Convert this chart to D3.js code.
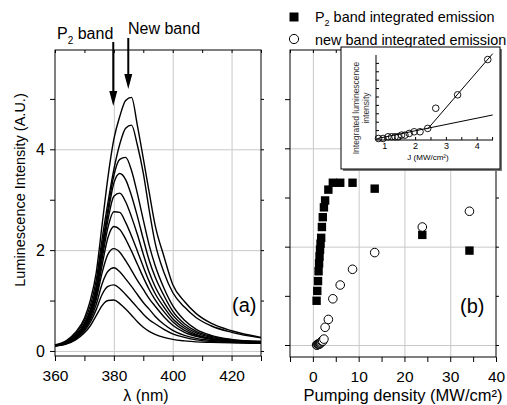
<!DOCTYPE html>
<html>
<head>
<meta charset="utf-8">
<script src="https://cdn.jsdelivr.net/npm/d3@7"></script>
<style>
body { margin: 0; background: #fff; }
svg { display: block; font-family: "Liberation Sans", Arial, sans-serif; }
.grid line { stroke: #c8c8c8; stroke-width: 1; }
.grid path, .axis path { display: none; }
.axis line { stroke: #000; }
</style>
</head>
<body>
<svg id="chart" width="507" height="405"></svg>
<script>
// (a) luminescence spectra, one array per pumping level
var wavelength = [360, 364, 367, 370, 372, 374, 376, 378, 380, 382, 384, 386, 388, 390, 392, 394, 397, 400, 404, 408, 413, 420, 430];
var spec01 = [0.10, 0.14, 0.22, 0.36, 0.50, 0.70, 0.90, 1.00, 1.01, 0.94, 0.83, 0.71, 0.58, 0.47, 0.39, 0.33, 0.27, 0.23, 0.20, 0.18, 0.17, 0.16, 0.15];
var spec02 = [0.10, 0.15, 0.24, 0.40, 0.57, 0.82, 1.12, 1.28, 1.31, 1.24, 1.12, 0.99, 0.86, 0.73, 0.62, 0.54, 0.43, 0.34, 0.27, 0.22, 0.19, 0.17, 0.16];
var spec03 = [0.10, 0.15, 0.25, 0.42, 0.62, 0.92, 1.33, 1.58, 1.65, 1.57, 1.43, 1.28, 1.12, 0.96, 0.83, 0.69, 0.53, 0.41, 0.31, 0.25, 0.21, 0.18, 0.16];
var spec04 = [0.10, 0.16, 0.26, 0.45, 0.67, 1.02, 1.55, 1.92, 2.03, 1.96, 1.79, 1.60, 1.40, 1.22, 1.04, 0.89, 0.68, 0.51, 0.37, 0.29, 0.23, 0.19, 0.17];
var spec05 = [0.10, 0.16, 0.27, 0.47, 0.70, 1.08, 1.70, 2.25, 2.47, 2.41, 2.22, 1.98, 1.72, 1.46, 1.22, 1.02, 0.78, 0.58, 0.41, 0.31, 0.24, 0.20, 0.17];
var spec06 = [0.11, 0.17, 0.28, 0.49, 0.73, 1.13, 1.82, 2.45, 2.76, 2.75, 2.55, 2.28, 1.98, 1.67, 1.38, 1.14, 0.87, 0.64, 0.45, 0.33, 0.25, 0.20, 0.18];
var spec07 = [0.11, 0.17, 0.29, 0.51, 0.76, 1.18, 1.92, 2.60, 3.07, 3.13, 2.96, 2.66, 2.31, 1.92, 1.56, 1.28, 0.97, 0.71, 0.49, 0.36, 0.27, 0.21, 0.18];
var spec08 = [0.11, 0.18, 0.30, 0.53, 0.79, 1.23, 2.00, 2.72, 3.33, 3.52, 3.40, 3.08, 2.67, 2.22, 1.80, 1.47, 1.10, 0.79, 0.54, 0.39, 0.29, 0.22, 0.19];
var spec09 = [0.11, 0.18, 0.31, 0.55, 0.82, 1.28, 2.08, 2.82, 3.48, 3.80, 3.84, 3.58, 3.12, 2.60, 2.10, 1.70, 1.25, 0.90, 0.61, 0.43, 0.31, 0.23, 0.19];
var spec10 = [0.11, 0.19, 0.34, 0.60, 0.90, 1.40, 2.22, 2.95, 3.60, 4.10, 4.42, 4.48, 4.08, 3.53, 2.80, 2.15, 1.56, 1.16, 0.87, 0.66, 0.50, 0.37, 0.26];
var spec11 = [0.12, 0.21, 0.37, 0.65, 1.00, 1.55, 2.50, 3.45, 4.20, 4.65, 4.97, 5.03, 4.47, 3.82, 3.15, 2.50, 1.88, 1.32, 0.98, 0.74, 0.55, 0.40, 0.27];
var spectra = [spec01, spec02, spec03, spec04, spec05, spec06, spec07, spec08, spec09, spec10, spec11];

// (b) integrated emission vs pumping density
var pumpJ = [0.81, 0.96, 1.12, 1.24, 1.35, 1.45, 1.56, 1.67, 1.81, 1.97, 2.16, 2.41, 2.67, 3.38, 4.36, 5.97, 8.66, 13.5, 23.9, 34.2];
var p2Band = [0.45, 0.55, 0.65, 0.75, 0.83, 0.90, 0.97, 1.03, 1.09, 1.20, 1.30, 1.40, 1.47, 1.58, 1.65, 1.65, 1.65, 1.59, 1.12, 0.96];
var newBand = [0.00, 0.00, 0.01, 0.01, 0.01, 0.01, 0.02, 0.02, 0.03, 0.04, 0.04, 0.06, 0.18, 0.26, 0.47, 0.61, 0.77, 0.94, 1.20, 1.36];

// inset: first 15 points of newBand, plus the two linear fits
var insetCount = 15;
var fitLow = [[0.78, 0.0], [4.52, 0.14]];
var fitHigh = [[2.40, 0.055], [4.52, 0.505]];

// ticks
var ticksA_x = [360, 370, 380, 390, 400, 410, 420, 430];
var labelsA_x = [360, 380, 400, 420];
var ticksA_y = [0, 1, 2, 3, 4, 5];
var labelsA_y = [0, 2, 4];
var ticksB_x = [-5, 0, 5, 10, 15, 20, 25, 30, 35, 40];
var labelsB_x = [0, 10, 20, 30, 40];
var ticksB_y = [0, 0.5, 1, 1.5, 2, 2.5];
var ticksI_x = [1, 1.5, 2, 2.5, 3, 3.5, 4, 4.5];
var labelsI_x = [1, 2, 3, 4];
var ticksI_y = [0, 0.05, 0.1, 0.15, 0.2, 0.25, 0.3, 0.35, 0.4, 0.45];

var svg = d3.select('#chart');

var xA = d3.scaleLinear().domain([360, 430]).range([55, 261]);
var yA = d3.scaleLinear().domain([-0.1, 5.97]).range([356, 50]);
var xB = d3.scaleLinear().domain([-5, 40]).range([290, 496]);
var yB = d3.scaleLinear().domain([-0.122, 3]).range([357, 50]);
var xI = d3.scaleLinear().domain([0.73, 4.53]).range([376, 493]);
var yI = d3.scaleLinear().domain([-0.009, 0.497]).range([140, 55]);

function fmtOnly(list) {
    return function (d) { return list.indexOf(d) >= 0 ? d : ''; };
}

function drawGrid(g, x, y, xVals, yVals) {
    var xr = x.range(), yr = y.range();
    g.append('g').attr('class', 'grid').attr('transform', 'translate(0,' + yr[0] + ')')
        .call(d3.axisBottom(x).tickValues(xVals).tickSize(-(yr[0] - yr[1])).tickFormat(''));
    g.append('g').attr('class', 'grid').attr('transform', 'translate(' + xr[0] + ',0)')
        .call(d3.axisLeft(y).tickValues(yVals).tickSize(-(xr[1] - xr[0])).tickFormat(''));
}

function drawFrame(g, x, y, xTicks, xLabels, yTicks, yLabels) {
    var xr = x.range(), yr = y.range();
    var bottom = g.append('g').attr('class', 'axis').attr('transform', 'translate(0,' + yr[0] + ')')
        .call(d3.axisBottom(x).tickValues(xTicks).tickSize(5).tickPadding(9).tickFormat(fmtOnly(xLabels)));
    bottom.attr('font-size', 15.5).attr('font-family', null);
    g.append('g').attr('class', 'axis').attr('transform', 'translate(0,' + yr[1] + ')')
        .call(d3.axisTop(x).tickValues(xTicks).tickSize(-3).tickFormat(''));
    var left = g.append('g').attr('class', 'axis').attr('transform', 'translate(' + xr[0] + ',0)')
        .call(d3.axisLeft(y).tickValues(yTicks).tickSize(5).tickPadding(5).tickFormat(fmtOnly(yLabels)));
    left.attr('font-size', 16).attr('font-family', null);
    g.append('g').attr('class', 'axis').attr('transform', 'translate(' + xr[1] + ',0)')
        .call(d3.axisRight(y).tickValues(yTicks).tickSize(3).tickFormat(''));
    g.append('rect').attr('x', xr[0]).attr('y', yr[1])
        .attr('width', xr[1] - xr[0]).attr('height', yr[0] - yr[1])
        .attr('fill', 'none').attr('stroke', '#000').attr('stroke-width', 1);
}

// ---- panel (a)
var gA = svg.append('g');
drawGrid(gA, xA, yA, [380, 400, 420], [0, 2, 4]);

var line = d3.line()
    .x(function (d, i) { return xA(wavelength[i]); })
    .y(function (d) { return yA(d); })
    .curve(d3.curveMonotoneX);

gA.selectAll('path.spectrum').data(spectra).enter().append('path')
    .attr('class', 'spectrum')
    .attr('d', line)
    .attr('fill', 'none')
    .attr('stroke', '#000')
    .attr('stroke-width', 1.4);

drawFrame(gA, xA, yA, ticksA_x, labelsA_x, ticksA_y, labelsA_y);

// band arrows
var arrows = [{lambda: 379.8, top: 42, tip: 106}, {lambda: 384.9, top: 38, tip: 89}];
arrows.forEach(function (a) {
    var x = xA(a.lambda);
    gA.append('line').attr('x1', x).attr('x2', x).attr('y1', a.top).attr('y2', a.tip - 12)
        .attr('stroke', '#000').attr('stroke-width', 2);
    gA.append('path')
        .attr('d', 'M' + (x - 4) + ',' + (a.tip - 15) + 'L' + (x + 4) + ',' + (a.tip - 15) + 'L' + x + ',' + a.tip + 'Z')
        .attr('fill', '#000');
});

var p2 = gA.append('text').attr('x', 57).attr('y', 39).attr('font-size', 16);
p2.append('tspan').text('P');
p2.append('tspan').attr('dy', 5).attr('font-size', 10).text('2');
p2.append('tspan').attr('dy', -5).text(' band');
gA.append('text').attr('x', 128).attr('y', 34).attr('font-size', 16).text('New band');

gA.append('text').attr('x', 232).attr('y', 312).attr('font-size', 20).text('(a)');
gA.append('text').attr('x', 146).attr('y', 400.5).attr('font-size', 16).attr('text-anchor', 'middle').text('λ (nm)');
gA.append('text').attr('transform', 'translate(25,190) rotate(-90)').attr('font-size', 14.5)
    .attr('text-anchor', 'middle').text('Luminescence Intensity (A.U.)');

// ---- panel (b)
var gB = svg.append('g');
drawGrid(gB, xB, yB, [0, 10, 20, 30], [0, 1, 2]);

gB.selectAll('rect.p2').data(p2Band).enter().append('rect')
    .attr('class', 'p2')
    .attr('x', function (d, i) { return xB(pumpJ[i]) - 4.2; })
    .attr('y', function (d) { return yB(d) - 4.2; })
    .attr('width', 8.4).attr('height', 8.4)
    .attr('fill', '#000');

gB.selectAll('circle.nb').data(newBand).enter().append('circle')
    .attr('class', 'nb')
    .attr('cx', function (d, i) { return xB(pumpJ[i]); })
    .attr('cy', function (d) { return yB(d); })
    .attr('r', 4.3)
    .attr('fill', '#fff').attr('stroke', '#000').attr('stroke-width', 1);

drawFrame(gB, xB, yB, ticksB_x, labelsB_x, ticksB_y, []);

gB.append('text').attr('x', 460).attr('y', 313).attr('font-size', 20).text('(b)');
gB.append('text').attr('x', 403).attr('y', 400.5).attr('font-size', 16.5).attr('text-anchor', 'middle')
    .text('Pumping density (MW/cm²)');

// legend
gB.append('rect').attr('x', 289.5).attr('y', 12.5).attr('width', 9).attr('height', 9).attr('fill', '#000');
var lg1 = gB.append('text').attr('x', 315).attr('y', 22).attr('font-size', 14.4);
lg1.append('tspan').text('P');
lg1.append('tspan').attr('dy', 4).attr('font-size', 9).text('2');
lg1.append('tspan').attr('dy', -4).text(' band integrated emission');
gB.append('circle').attr('cx', 294).attr('cy', 39).attr('r', 4.6)
    .attr('fill', '#fff').attr('stroke', '#000').attr('stroke-width', 1);
gB.append('text').attr('x', 315).attr('y', 45).attr('font-size', 14.4).text('new band integrated emission');

// ---- inset
var gI = svg.append('g');
gI.append('rect').attr('x', 343).attr('y', 49).attr('width', 159).attr('height', 122).attr('fill', '#777');
gI.append('rect').attr('x', 341).attr('y', 47).attr('width', 159).attr('height', 122)
    .attr('fill', '#fff').attr('stroke', '#000').attr('stroke-width', 1);

var iBottom = gI.append('g').attr('class', 'axis').attr('transform', 'translate(0,140)')
    .call(d3.axisBottom(xI).tickValues(ticksI_x).tickSize(-3).tickPadding(2.5).tickFormat(fmtOnly(labelsI_x)));
iBottom.attr('font-size', 9).attr('font-family', null);
gI.append('g').attr('class', 'axis').attr('transform', 'translate(376,0)')
    .call(d3.axisLeft(yI).tickValues(ticksI_y).tickSize(-3).tickFormat(''));
gI.append('line').attr('x1', 376).attr('x2', 493).attr('y1', 140).attr('y2', 140).attr('stroke', '#000');
gI.append('line').attr('x1', 376).attr('x2', 376).attr('y1', 55).attr('y2', 140).attr('stroke', '#000');

var fitLine = d3.line()
    .x(function (d) { return xI(d[0]); })
    .y(function (d) { return yI(d[1]); });
[fitLow, fitHigh].forEach(function (f) {
    gI.append('path').attr('d', fitLine(f)).attr('fill', 'none').attr('stroke', '#000').attr('stroke-width', 1);
});

gI.selectAll('circle.ins').data(newBand.slice(0, insetCount)).enter().append('circle')
    .attr('class', 'ins')
    .attr('cx', function (d, i) { return xI(pumpJ[i]); })
    .attr('cy', function (d) { return yI(d); })
    .attr('r', 3.3)
    .attr('fill', 'none').attr('stroke', '#000').attr('stroke-width', 0.9);

gI.append('text').attr('x', 428).attr('y', 160).attr('font-size', 8).attr('text-anchor', 'middle')
    .text('J (MW/cm²)');
gI.append('text').attr('transform', 'translate(359,108) rotate(-90)').attr('font-size', 8.5)
    .attr('text-anchor', 'middle').attr('fill', '#333').text('Integrated luminescence');
gI.append('text').attr('transform', 'translate(369,108) rotate(-90)').attr('font-size', 8.5)
    .attr('text-anchor', 'middle').attr('fill', '#333').text('intensity');
</script>
</body>
</html>
